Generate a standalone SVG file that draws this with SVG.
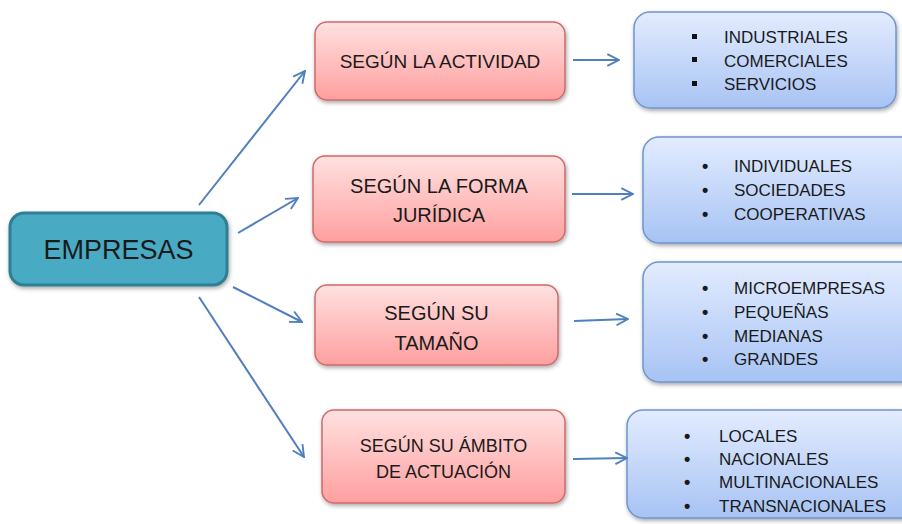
<svg xmlns="http://www.w3.org/2000/svg" width="902" height="524" viewBox="0 0 902 524">
<defs>
<linearGradient id="pink" x1="0" y1="0" x2="0" y2="1"><stop offset="0" stop-color="#ffe1e1"/><stop offset="1" stop-color="#ff9f9f"/></linearGradient>
<linearGradient id="blue" x1="0" y1="0" x2="0" y2="1"><stop offset="0" stop-color="#e3ecff"/><stop offset="1" stop-color="#a7c3f4"/></linearGradient>
<filter id="sh" x="-10%" y="-10%" width="120%" height="130%"><feDropShadow dx="1" dy="2" stdDeviation="2" flood-color="#000" flood-opacity="0.35"/></filter>
<marker id="ah" viewBox="0 0 12 12" refX="11" refY="6" markerWidth="14" markerHeight="14" markerUnits="userSpaceOnUse" orient="auto"><path d="M1,1 L11,6 L1,11" fill="none" stroke="#4f7fbd" stroke-width="1.6"/></marker>
</defs>
<style>
text{font-family:"Liberation Sans",Arial,sans-serif;fill:#1a1a1a}
.main{fill:#4aaac4;stroke:#2f7f93;stroke-width:3}
.cat{fill:url(#pink);stroke:#d06a6a;stroke-width:1.5}
.lst{fill:url(#blue);stroke:#6f95cf;stroke-width:1.5}
.c{text-anchor:middle}
.t1{font-size:27px}
.t2{font-size:19px}
.t3{font-size:17px}
.b{font-size:18px;font-weight:bold}
.con line{stroke:#4f7fbd;stroke-width:2;marker-end:url(#ah)}
</style>
<g id="empresas"><rect class="main" x="10" y="213" width="217" height="72" rx="14" filter="url(#sh)"/><text class="c t1" x="118.5" y="259">EMPRESAS</text></g>
<g id="actividad"><rect class="cat" x="315" y="22" width="250" height="78" rx="12" filter="url(#sh)"/><text class="c t2" x="440" y="68">SEGÚN LA ACTIVIDAD</text></g>
<g id="forma"><rect class="cat" x="313" y="156" width="252" height="86" rx="12" filter="url(#sh)"/><text class="c" style="font-size:20px" x="439" y="193">SEGÚN LA FORMA</text><text class="c" style="font-size:20px" x="439" y="222">JURÍDICA</text></g>
<g id="tamano"><rect class="cat" x="315" y="285" width="243" height="80" rx="12" filter="url(#sh)"/><text class="c" style="font-size:20px" x="436.5" y="320">SEGÚN SU</text><text class="c" style="font-size:20px" x="436.5" y="350">TAMAÑO</text></g>
<g id="ambito"><rect class="cat" x="322" y="410" width="243" height="93" rx="12" filter="url(#sh)"/><text class="c" style="font-size:18px" x="443.5" y="452">SEGÚN SU ÁMBITO</text><text class="c" style="font-size:18px" x="443.5" y="478">DE ACTUACIÓN</text></g>
<g id="lista-actividad"><rect class="lst" x="634" y="12" width="262" height="96" rx="16" filter="url(#sh)"/>
<rect x="692" y="34" width="5" height="5" fill="#111"/><rect x="692" y="57" width="5" height="5" fill="#111"/><rect x="692" y="81" width="5" height="5" fill="#111"/>
<text class="t3" x="724" y="43">INDUSTRIALES</text><text class="t3" x="724" y="66.5">COMERCIALES</text><text class="t3" x="724" y="90">SERVICIOS</text></g>
<g id="lista-forma"><rect class="lst" x="643" y="137" width="280" height="106" rx="16" filter="url(#sh)"/>
<text class="b" x="702" y="172">•</text><text class="b" x="702" y="196">•</text><text class="b" x="702" y="220">•</text>
<text class="t3" x="734" y="172">INDIVIDUALES</text><text class="t3" x="734" y="196">SOCIEDADES</text><text class="t3" x="734" y="220">COOPERATIVAS</text></g>
<g id="lista-tamano"><rect class="lst" x="643" y="262" width="280" height="120" rx="16" filter="url(#sh)"/>
<text class="b" x="702" y="294">•</text><text class="b" x="702" y="318">•</text><text class="b" x="702" y="342">•</text><text class="b" x="702" y="365">•</text>
<text class="t3" x="734" y="294">MICROEMPRESAS</text><text class="t3" x="734" y="318">PEQUEÑAS</text><text class="t3" x="734" y="342">MEDIANAS</text><text class="t3" x="734" y="365">GRANDES</text></g>
<g id="lista-ambito"><rect class="lst" x="627" y="410" width="296" height="108" rx="16" filter="url(#sh)"/>
<text class="b" x="684" y="442">•</text><text class="b" x="684" y="465">•</text><text class="b" x="684" y="488">•</text><text class="b" x="684" y="512">•</text>
<text class="t3" x="719" y="442">LOCALES</text><text class="t3" x="719" y="465">NACIONALES</text><text class="t3" x="719" y="488">MULTINACIONALES</text><text class="t3" x="719" y="512">TRANSNACIONALES</text></g>
<g class="con" id="connectors">
<line x1="199" y1="205" x2="305" y2="71"/>
<line x1="238" y1="233" x2="298" y2="198"/>
<line x1="233" y1="287" x2="302" y2="322"/>
<line x1="199" y1="297" x2="304" y2="457"/>
<line x1="573" y1="60" x2="619" y2="60"/>
<line x1="572" y1="194" x2="633" y2="194"/>
<line x1="574" y1="321" x2="628" y2="319"/>
<line x1="573" y1="459" x2="627" y2="458"/>
</g>
</svg>
